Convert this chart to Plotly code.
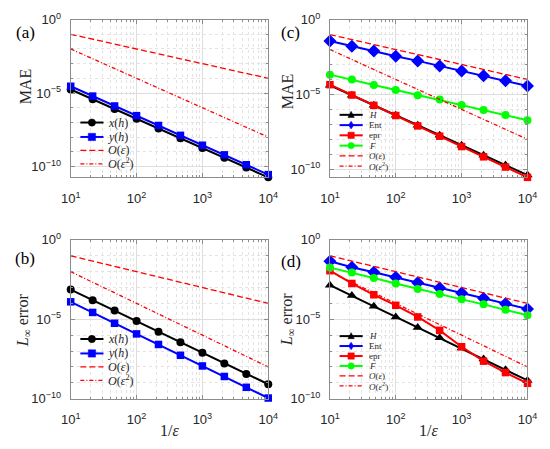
import plotly.graph_objects as go

W, H = 550, 449

# 1/eps sample points (shared by all panels)
inv_eps = [10, 21.54, 46.42, 100, 215.4, 464.2, 1000, 2154, 4642, 10000]

# reference slopes, drawn between the end points
ref_x = [10, 10000]
ref_eps = [1e-1, 1e-4]
ref_eps2 = [1e-2, 1e-8]

# (a) MAE
a_xh = [1.74e-5, 3.8e-6, 8.1e-7, 1.78e-7, 3.8e-8, 8.3e-9, 1.82e-9, 3.9e-10, 8.5e-11, 1.82e-11]
a_yh = [2.9e-5, 6.2e-6, 1.32e-6, 2.9e-7, 6.2e-8, 1.32e-8, 2.8e-9, 6.2e-10, 1.32e-10, 2.8e-11]

# (b) L_inf error
b_xh = [7.4e-4, 1.6e-4, 3.6e-5, 7.8e-6, 1.66e-6, 3.6e-7, 7.8e-8, 1.66e-8, 3.6e-9, 8.1e-10]
b_yh = [1.26e-4, 2.7e-5, 5.6e-6, 1.2e-6, 2.6e-7, 5.4e-8, 1.15e-8, 2.5e-9, 5.2e-10, 1.1e-10]

# (c) MAE
c_H = [4.1e-5, 8.7e-6, 1.9e-6, 4.1e-7, 8.7e-8, 1.9e-8, 4.1e-9, 8.7e-10, 1.9e-10, 4.1e-11]
c_Ent = [3.7e-2, 1.66e-2, 7.9e-3, 3.6e-3, 1.74e-3, 7.9e-4, 3.7e-4, 1.78e-4, 8.1e-5, 3.7e-5]
c_epr = [4.5e-5, 9.1e-6, 1.86e-6, 3.9e-7, 7.9e-8, 1.62e-8, 3.3e-9, 6.8e-10, 1.41e-10, 2.9e-11]
c_F = [2.1e-4, 1.0e-4, 4.3e-5, 1.95e-5, 8.9e-6, 4.5e-6, 2.0e-6, 9.1e-7, 4.2e-7, 1.9e-7]

# (d) L_inf error
d_H = [1.4e-3, 3.2e-4, 6.6e-5, 1.4e-5, 3.0e-6, 6.9e-7, 1.55e-7, 3.2e-8, 6.6e-9, 1.4e-9]
d_Ent = [4.5e-2, 1.9e-2, 9.1e-3, 4.4e-3, 2.0e-3, 9.3e-4, 4.5e-4, 2.1e-4, 9.5e-5, 4.4e-5]
d_epr = [1.15e-2, 1.8e-3, 3.5e-4, 7.6e-5, 1.4e-5, 2.0e-6, 1.86e-7, 2.3e-8, 4.4e-9, 9.3e-10]
d_F = [1.8e-2, 8.7e-3, 4.0e-3, 1.8e-3, 8.1e-4, 3.9e-4, 1.8e-4, 8.7e-5, 4.0e-5, 1.8e-5]

x_ticks = [10, 100, 1000, 10000]
x_ticktext = ["10<sup>1</sup>", "10<sup>2</sup>", "10<sup>3</sup>", "10<sup>4</sup>"]
y_ticks = [1e-10, 1e-5, 1]
y_ticktext = ["10<sup>\u221210</sup>", "10<sup>\u22125</sup>", "10<sup>0</sup>"]

EPS = "<i>O</i>(<i>\u03b5</i>)"
EPS2 = "<i>O</i>(<i>\u03b5</i><sup>2</sup>)"

BLACK, BLUE, RED, GREEN = "#000000", "#0000ff", "#ff0000", "#00ff00"
SERIF = "Liberation Serif"
SANS = "Liberation Sans"
AXIS_COL = "#8c8c8c"

# panel layout in pixels: x0, x1, y_top, y_bottom, y log range, ytitle
panels = {
    1: dict(box=(63, 268, 11, 175), yr=[-10.74, 0], label="(a)", lab_xy=(16, 24),
            ytitle="MAE", yt_xy=(17, 80), xtitle=False),
    2: dict(box=(332, 537, 11, 175), yr=[-10.54, 0], label="(c)", lab_xy=(291, 24),
            ytitle="MAE", yt_xy=(288, 86), xtitle=False),
    3: dict(box=(63, 268, 240, 405), yr=[-10, 0], label="(b)", lab_xy=(16, 259),
            ytitle="<i>L</i><sub>\u221e</sub> error", yt_xy=(14, 323), xtitle=True),
    4: dict(box=(332, 537, 240, 405), yr=[-10, 0], label="(d)", lab_xy=(292, 262),
            ytitle="<i>L</i><sub>\u221e</sub> error", yt_xy=(288, 323), xtitle=True),
}

# series per panel: name, values, colour, symbol
series = {
    1: [("<i>x</i>(<i>h</i>)", a_xh, BLACK, "circle"),
        ("<i>y</i>(<i>h</i>)", a_yh, BLUE, "square")],
    3: [("<i>x</i>(<i>h</i>)", b_xh, BLACK, "circle"),
        ("<i>y</i>(<i>h</i>)", b_yh, BLUE, "square")],
    2: [("<i>H</i>", c_H, BLACK, "triangle-up"),
        ("Ent", c_Ent, BLUE, "diamond"),
        ("epr", c_epr, RED, "square"),
        ("<i>F</i>", c_F, GREEN, "circle")],
    4: [("<i>H</i>", d_H, BLACK, "triangle-up"),
        ("Ent", d_Ent, BLUE, "diamond"),
        ("epr", d_epr, RED, "square"),
        ("<i>F</i>", d_F, GREEN, "circle")],
}

# hand placed legend keys (pixels): key x0, key x1, text x, row ys, font size, marker r
legends = {
    1: dict(x0=73, x1=97, tx=100, ys=[118, 133, 147, 161], fs=12, r=3.8),
    3: dict(x0=73, x1=97, tx=100, ys=[343, 358, 372, 386], fs=12, r=3.8),
    2: dict(x0=342, x1=366, tx=370, ys=[110, 120.7, 131.3, 142, 152.6, 163.3], fs=9, r=3.3),
    4: dict(x0=342, x1=366, tx=370, ys=[340, 350.3, 360.7, 371, 381.3, 391.7], fs=9, r=3.3),
}

MSIZE = {"circle": 8, "square": 7.5, "triangle-up": 9, "diamond": 10}
DASH_EPS = "6px,3px"
DASH_EPS2 = "4px,2px,1px,2px"


def px(x):
    return x / W


def py(y):
    return 1 - y / H


def marker_shape(sym, cx, cy, r, color):
    base = dict(xref="paper", yref="paper", fillcolor=color, line=dict(color=color, width=0.5),
                layer="above")
    if sym == "circle":
        return dict(type="circle", x0=px(cx - r), x1=px(cx + r), y0=py(cy + r), y1=py(cy - r), **base)
    if sym == "square":
        return dict(type="rect", x0=px(cx - r), x1=px(cx + r), y0=py(cy + r), y1=py(cy - r), **base)
    if sym == "triangle-up":
        pts = [(cx, cy - r * 1.1), (cx + r, cy + r * 0.8), (cx - r, cy + r * 0.8)]
    else:
        pts = [(cx, cy - r * 1.2), (cx + r * 0.8, cy), (cx, cy + r * 1.2), (cx - r * 0.8, cy)]
    path = "M " + " L ".join(f"{px(a):.5f},{py(b):.5f}" for a, b in pts) + " Z"
    return dict(type="path", path=path, **base)


def text_at(text, x, y, size, xanchor="center", angle=0, color="#262626"):
    return dict(text=text, x=px(x), y=py(y), xref="paper", yref="paper", showarrow=False,
                xanchor=xanchor, yanchor="middle", textangle=angle,
                font=dict(family=SERIF, size=size, color=color))


fig = go.Figure()
layout = dict(
    width=W, height=H, autosize=False,
    margin=dict(l=0, r=0, t=0, b=0),
    paper_bgcolor="white", plot_bgcolor="white",
    showlegend=False,
    font=dict(family=SANS, size=13, color="#262626"),
)

x_minor = [m * 10 ** k for k in range(1, 4) for m in range(2, 10)]
annotations = []
shapes = []

for n, p in panels.items():
    x0, x1, yt, yb = p["box"]
    sx = "" if n == 1 else str(n)
    y_minor = [10.0 ** (-k) for k in range(1, 11) if k not in (5, 10)]
    common = dict(
        type="log", showline=True, linecolor=AXIS_COL, linewidth=1, mirror="ticks",
        ticks="inside", ticklen=4, tickcolor=AXIS_COL,
        showgrid=True, gridcolor="#dedede", gridwidth=0.8, zeroline=False,
        tickfont=dict(family=SANS, size=13, color="#262626"),
    )
    layout["xaxis" + sx] = dict(
        domain=[px(x0), px(x1)], anchor="y" + sx, range=[1, 4],
        tickmode="array", tickvals=x_ticks, ticktext=x_ticktext, ticklabelstandoff=9,
        minor=dict(tickmode="array", tickvals=x_minor, ticks="inside", ticklen=2,
                   tickcolor=AXIS_COL, showgrid=True, gridcolor="#e4e4e4",
                   griddash="dot", gridwidth=0.8),
        **common,
    )
    layout["yaxis" + sx] = dict(
        domain=[py(yb), py(yt)], anchor="x" + sx, range=p["yr"],
        tickmode="array", tickvals=y_ticks, ticktext=y_ticktext, ticklabelstandoff=6,
        minor=dict(tickmode="array", tickvals=y_minor, ticks="inside", ticklen=2,
                   tickcolor=AXIS_COL, showgrid=True, gridcolor="#e4e4e4",
                   griddash="dot", gridwidth=0.8),
        **common,
    )

    axes = dict(xaxis="x" + sx, yaxis="y" + sx)
    for name, vals, color, sym in series[n]:
        fig.add_trace(go.Scatter(
            x=inv_eps, y=vals, name=name, mode="lines+markers", cliponaxis=False,
            line=dict(color=color, width=2),
            marker=dict(symbol=sym, size=MSIZE[sym], color=color), **axes))
    fig.add_trace(go.Scatter(x=ref_x, y=ref_eps, name=EPS, mode="lines",
                             line=dict(color=RED, width=1.3, dash=DASH_EPS), **axes))
    fig.add_trace(go.Scatter(x=ref_x, y=ref_eps2, name=EPS2, mode="lines",
                             line=dict(color=RED, width=1.3, dash=DASH_EPS2), **axes))

    # panel letter and axis titles
    annotations.append(text_at(p["label"], *p["lab_xy"], 17, color="black"))
    annotations.append(text_at(p["ytitle"], *p["yt_xy"], 16, angle=-90))
    if p["xtitle"]:
        annotations.append(text_at("1/<i>\u03b5</i>", (x0 + x1) / 2, 438, 16))

    # legend, drawn by hand so the rows can sit as close as in the original
    lg = legends[n]
    entries = [(name, color, sym, None) for name, _, color, sym in series[n]]
    entries += [(EPS, RED, None, DASH_EPS), (EPS2, RED, None, DASH_EPS2)]
    for (name, color, sym, dash), y in zip(entries, lg["ys"]):
        shapes.append(dict(type="line", xref="paper", yref="paper",
                           x0=px(lg["x0"]), x1=px(lg["x1"]), y0=py(y), y1=py(y),
                           line=dict(color=color, width=2 if sym else 1.3, dash=dash or "solid"),
                           layer="above"))
        if sym:
            shapes.append(marker_shape(sym, (lg["x0"] + lg["x1"]) / 2, y, lg["r"], color))
        annotations.append(text_at(name, lg["tx"], y, lg["fs"], xanchor="left"))

layout["annotations"] = annotations
layout["shapes"] = shapes
fig.update_layout(**layout)

# the page gets the browser's default 8px body margin otherwise
fig.write_html("out.html", config={"displayModeBar": False},
               post_script="document.body.style.margin = '0px';")
